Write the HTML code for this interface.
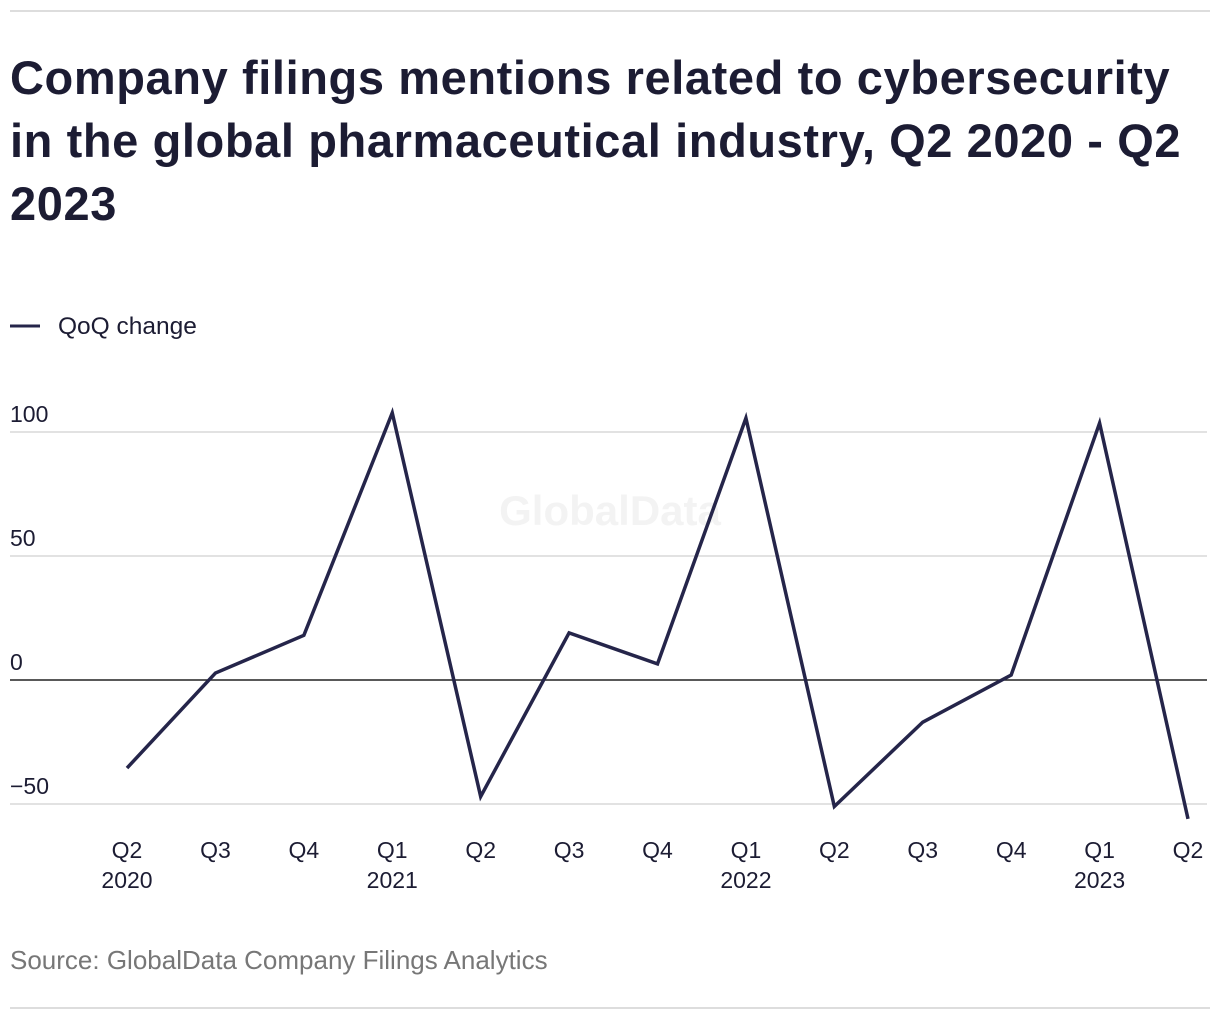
<!DOCTYPE html>
<html><head><meta charset="utf-8"><style>
body{margin:0;background:#fff;font-family:"Liberation Sans",sans-serif;color:#1c1c33}
#wrap{position:relative;width:1220px;height:1020px;overflow:hidden}
.rule{position:absolute;left:10px;width:1200px;height:2px;background:#ddd}
h1{position:absolute;left:10px;top:46px;width:1210px;margin:0;font-size:47px;line-height:63px;font-weight:bold;letter-spacing:0.6px;white-space:nowrap}
#src{position:absolute;left:10px;top:945px;font-size:26px;color:#777}
</style></head><body><div id="wrap">
<div class="rule" style="top:10px"></div>
<h1>Company filings mentions related to cybersecurity<br>in the global pharmaceutical industry, Q2 2020 - Q2<br>2023</h1>
<svg id="chart" width="1220" height="1020" style="position:absolute;left:0;top:0">
<g><line x1="10" y1="326" x2="40" y2="326" stroke="#25254a" stroke-width="3"/><text x="58" y="334" font-size="24.5" fill="#1c1c33" font-family="Liberation Sans, sans-serif">QoQ change</text></g>
<text x="610" y="525" font-size="42" font-weight="bold" fill="#f3f3f3" text-anchor="middle" font-family="Liberation Sans, sans-serif">GlobalData</text>
</svg>
<div id="src">Source: GlobalData Company Filings Analytics</div>
<div class="rule" style="top:1007px"></div>
</div>
<script>
const categories=["Q2|2020","Q3","Q4","Q1|2021","Q2","Q3","Q4","Q1|2022","Q2","Q3","Q4","Q1|2023","Q2"];
const values=[-35.5,2.8,18,107.7,-47,19,6.5,105.6,-51,-17,2,103.6,-56];
const yTicks=[-50,0,50,100];
const yTickLabels=["\u221250","0","50","100"];
const svg=document.getElementById('chart');const NS='http://www.w3.org/2000/svg';
const x=i=>127+i*(1188-127)/(categories.length-1);
const y=v=>680-v*2.48;
function mk(t,a){const e=document.createElementNS(NS,t);for(const k in a)e.setAttribute(k,a[k]);svg.appendChild(e);return e;}
yTicks.forEach((t,i)=>{
const l=mk('line',{x1:10,x2:1207,y1:y(t),y2:y(t),stroke:t===0?'#222':'#d8d8d8','stroke-width':1.5});


const tx=mk('text',{x:10,y:y(t)-10,'font-size':23,fill:'#1c1c33','font-family':'Liberation Sans, sans-serif'});tx.textContent=yTickLabels[i];


});
categories.forEach((c,i)=>{const p=c.split('|');p.forEach((s,j)=>{
const tx=mk('text',{x:x(i),y:858+j*30,'font-size':23,fill:'#1c1c33','text-anchor':'middle','font-family':'Liberation Sans, sans-serif'});tx.textContent=s;


});});
const path=mk('polyline',{points:values.map((v,i)=>x(i)+','+y(v)).join(' '),fill:'none',stroke:'#25254a','stroke-width':3.5,'stroke-linejoin':'miter'});


</script></body></html>
